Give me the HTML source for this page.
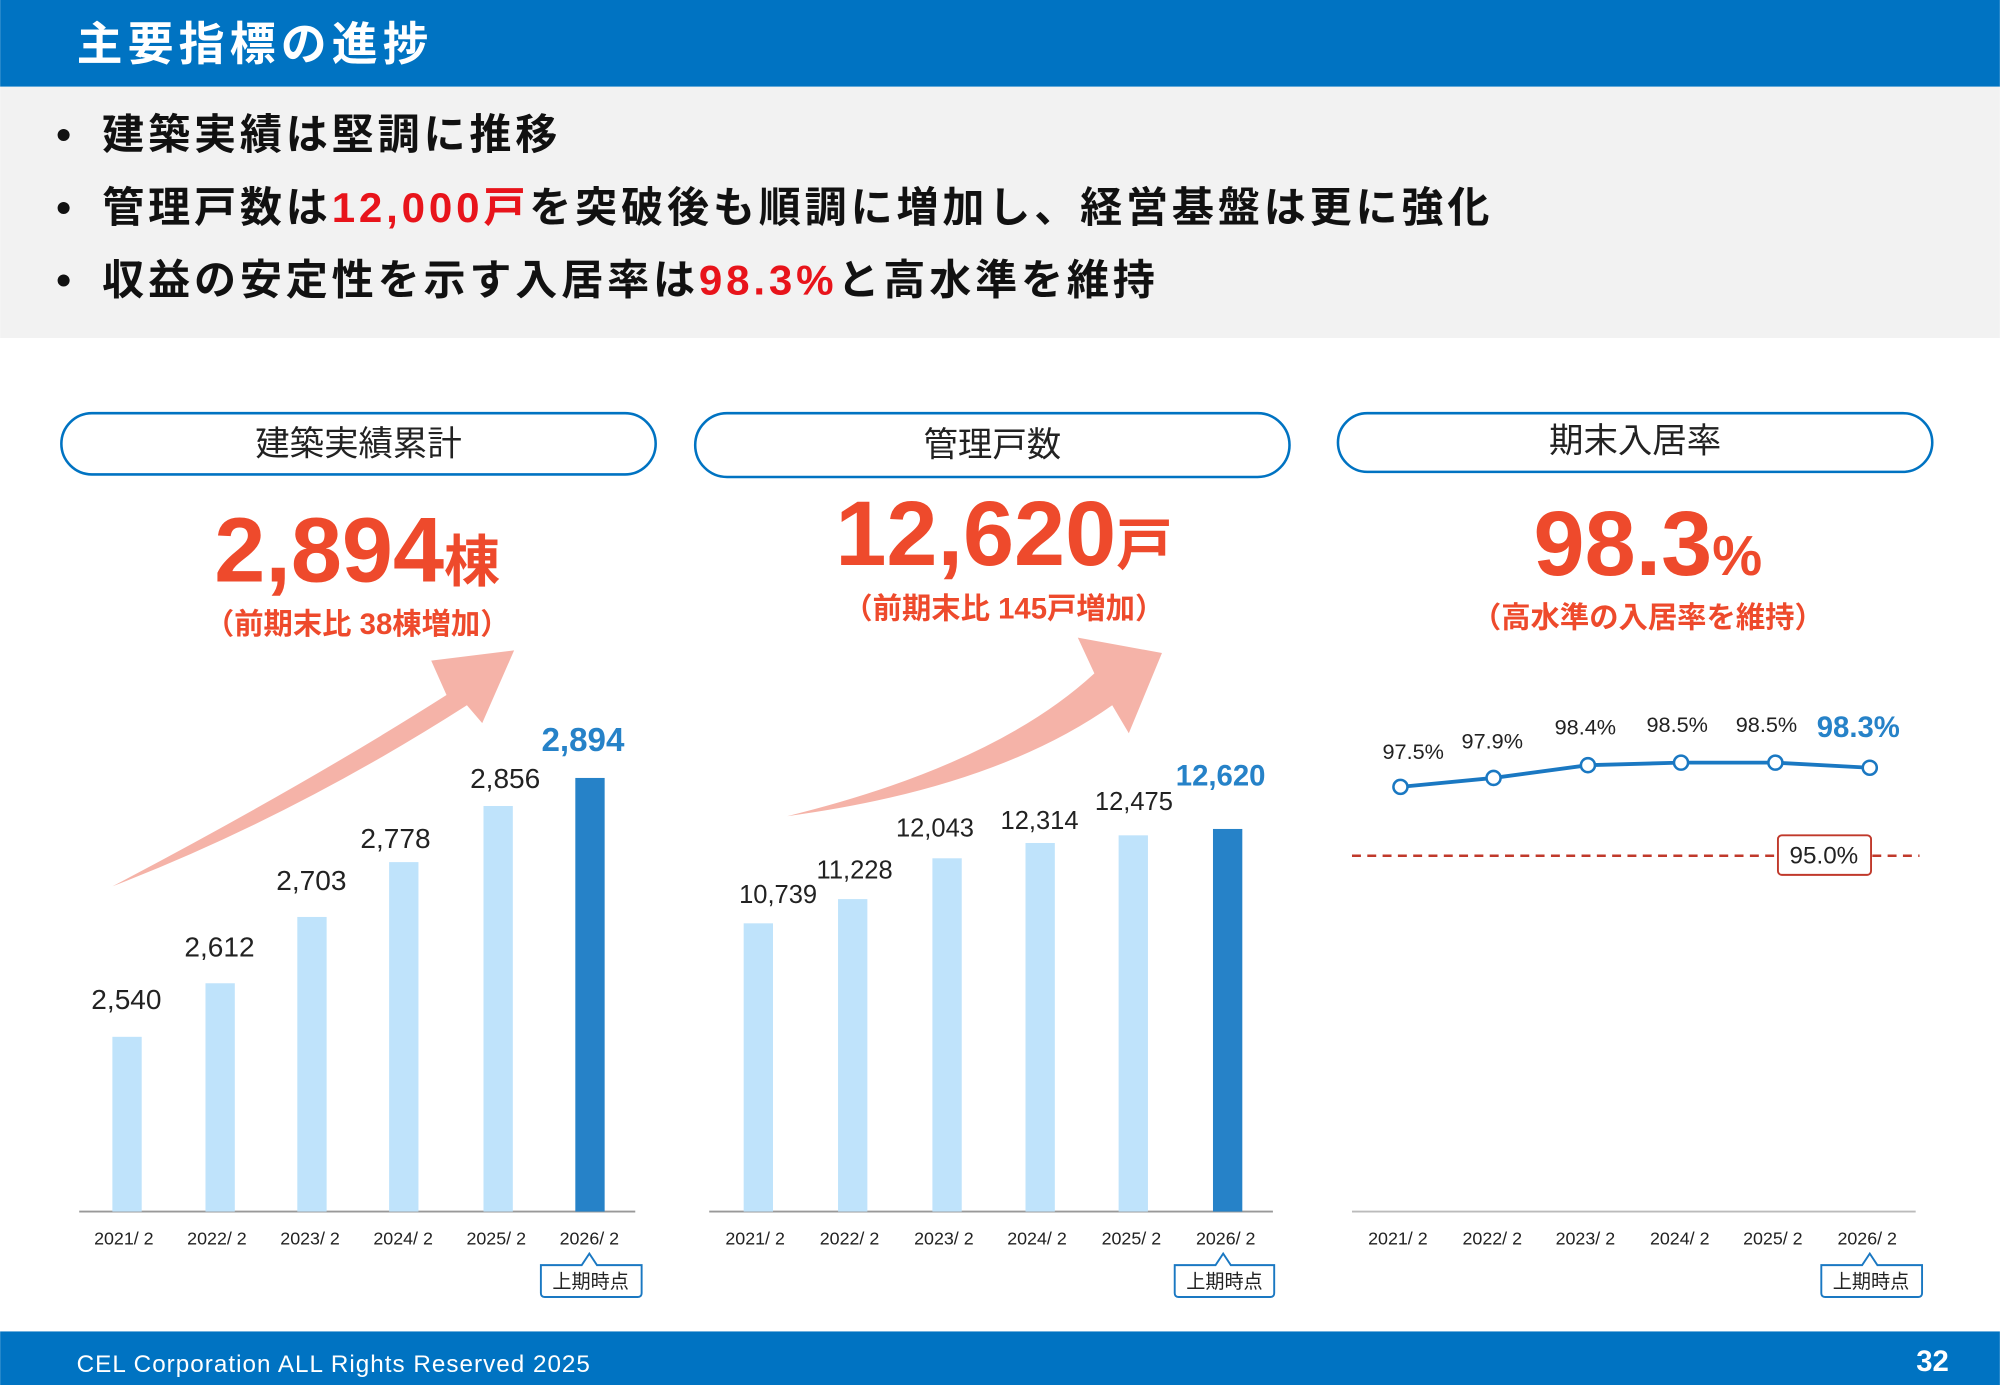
<!DOCTYPE html>
<html><head><meta charset="utf-8"><style>
html,body{margin:0;padding:0;background:#fff;}
svg{display:block;}
text{font-family:"Liberation Sans","Noto Sans CJK JP",sans-serif;}
</style></head><body>
<svg width="2000" height="1385" viewBox="0 0 1568 1086" xmlns="http://www.w3.org/2000/svg">
<rect x="0" y="0" width="1568" height="68" fill="#0073C2"/>
<text x="60" y="47" font-size="36" font-weight="bold" fill="#fff" letter-spacing="4">主要指標の進捗</text>
<rect x="0" y="68" width="1568" height="197" fill="#F2F2F2"/>
<g font-size="33" font-weight="bold" fill="#111" letter-spacing="3">
<text x="44" y="117">•</text><text x="80" y="117">建築実績は堅調に推移</text>
<text x="44" y="174">•</text><text x="80" y="174">管理戸数は<tspan fill="#E8141B">12,000戸</tspan>を突破後も順調に増加し、経営基盤は更に強化</text>
<text x="44" y="231">•</text><text x="80" y="231">収益の安定性を示す入居率は<tspan fill="#E8141B">98.3%</tspan>と高水準を維持</text>
</g>
<g fill="#fff" stroke="#0073C2" stroke-width="2">
<rect x="48" y="324" width="466" height="48" rx="24"/>
<rect x="545" y="324" width="466" height="50" rx="25"/>
<rect x="1049" y="324" width="466" height="46" rx="23"/>
</g>
<g font-size="27" fill="#222" text-anchor="middle">
<text x="281" y="357">建築実績累計</text>
<text x="778" y="358">管理戸数</text>
<text x="1282" y="355">期末入居率</text>
</g>
<g fill="#EE4A2C" font-weight="bold" text-anchor="middle">
<text x="280" y="456" font-size="72">2,894<tspan font-size="44">棟</tspan></text>
<text x="280" y="497" font-size="23">（前期末比 38棟増加）</text>
<text x="787" y="443" font-size="72">12,620<tspan font-size="44">戸</tspan></text>
<text x="787" y="485" font-size="23">（前期末比 145戸増加）</text>
<text x="1292" y="451" font-size="72">98.3<tspan font-size="44">%</tspan></text>
<text x="1292" y="492" font-size="23">（高水準の入居率を維持）</text>
</g>
<path d="M88,695 Q240,615 350,545 L338,518 L403,510 L378,567 L366,553 Q230,640 88,695 Z" fill="#F5B3A8"/>
<path d="M617,640 Q780,600 858,528 L845,500 L911,512 L885,575 L872,553 Q780,618 617,640 Z" fill="#F5B3A8"/>
<line x1="62" y1="950" x2="498" y2="950" stroke="#999" stroke-width="1.5"/>
<g fill="#BFE3FB">
<rect x="88" y="813" width="23" height="137"/>
<rect x="161" y="771" width="23" height="179"/>
<rect x="233" y="719" width="23" height="231"/>
<rect x="305" y="676" width="23" height="274"/>
<rect x="379" y="632" width="23" height="318"/>
</g>
<rect x="451" y="610" width="23" height="340" fill="#2682C8"/>
<g font-size="22" fill="#222" text-anchor="middle">
<text x="99" y="791">2,540</text><text x="172" y="750">2,612</text><text x="244" y="698">2,703</text>
<text x="310" y="665">2,778</text><text x="396" y="618">2,856</text>
</g>
<text x="457" y="589" font-size="26" font-weight="bold" fill="#2682C8" text-anchor="middle">2,894</text>
<line x1="556" y1="950" x2="998" y2="950" stroke="#999" stroke-width="1.5"/>
<g fill="#BFE3FB">
<rect x="583" y="724" width="23" height="226"/>
<rect x="657" y="705" width="23" height="245"/>
<rect x="731" y="673" width="23" height="277"/>
<rect x="804" y="661" width="23" height="289"/>
<rect x="877" y="655" width="23" height="295"/>
</g>
<rect x="951" y="650" width="23" height="300" fill="#2682C8"/>
<g font-size="20" fill="#222" text-anchor="middle">
<text x="610" y="708">10,739</text><text x="670" y="689">11,228</text><text x="733" y="656">12,043</text>
<text x="815" y="650">12,314</text><text x="889" y="635">12,475</text>
</g>
<text x="957" y="616" font-size="23" font-weight="bold" fill="#2682C8" text-anchor="middle">12,620</text>
<line x1="1060" y1="950" x2="1502" y2="950" stroke="#bbb" stroke-width="1.5"/>
<line x1="1060" y1="671" x2="1505" y2="671" stroke="#C0392B" stroke-width="2" stroke-dasharray="7,5"/>
<rect x="1394" y="655" width="73" height="31" rx="3" fill="#fff" stroke="#C0392B" stroke-width="1.5"/>
<text x="1430" y="677" font-size="19" fill="#222" text-anchor="middle">95.0%</text>
<polyline points="1098,617 1171,610 1245,600 1318,598 1392,598 1466,602" fill="none" stroke="#1A78C2" stroke-width="3"/>
<g fill="#fff" stroke="#1A78C2" stroke-width="2">
<circle cx="1098" cy="617" r="5.5"/><circle cx="1171" cy="610" r="5.5"/><circle cx="1245" cy="600" r="5.5"/>
<circle cx="1318" cy="598" r="5.5"/><circle cx="1392" cy="598" r="5.5"/><circle cx="1466" cy="602" r="5.5"/>
</g>
<g font-size="17" fill="#222" text-anchor="middle">
<text x="1108" y="595">97.5%</text><text x="1170" y="587">97.9%</text><text x="1243" y="576">98.4%</text>
<text x="1315" y="574">98.5%</text><text x="1385" y="574">98.5%</text>
</g>
<text x="1457" y="578" font-size="23" font-weight="bold" fill="#2682C8" text-anchor="middle">98.3%</text>
<g font-size="14" fill="#222" text-anchor="middle">
<text x="97" y="976">2021/ 2</text><text x="170" y="976">2022/ 2</text><text x="243" y="976">2023/ 2</text><text x="316" y="976">2024/ 2</text><text x="389" y="976">2025/ 2</text><text x="462" y="976">2026/ 2</text>
<text x="592" y="976">2021/ 2</text><text x="666" y="976">2022/ 2</text><text x="740" y="976">2023/ 2</text><text x="813" y="976">2024/ 2</text><text x="887" y="976">2025/ 2</text><text x="961" y="976">2026/ 2</text>
<text x="1096" y="976">2021/ 2</text><text x="1170" y="976">2022/ 2</text><text x="1243" y="976">2023/ 2</text><text x="1317" y="976">2024/ 2</text><text x="1390" y="976">2025/ 2</text><text x="1464" y="976">2026/ 2</text>
</g>
<g fill="#fff" stroke="#1A78C2" stroke-width="1.5">
<path d="M424,992 L456,992 L462,983 L468,992 L503,992 L503,1014 Q503,1017 500,1017 L427,1017 Q424,1017 424,1014 Z"/>
<path d="M921,992 L953,992 L959,983 L965,992 L999,992 L999,1014 Q999,1017 996,1017 L924,1017 Q921,1017 921,1014 Z"/>
<path d="M1428,992 L1460,992 L1466,983 L1472,992 L1507,992 L1507,1014 Q1507,1017 1504,1017 L1431,1017 Q1428,1017 1428,1014 Z"/>
</g>
<g font-size="15" fill="#222" text-anchor="middle">
<text x="463" y="1010">上期時点</text><text x="960" y="1010">上期時点</text><text x="1467" y="1010">上期時点</text>
</g>
<rect x="0" y="1044" width="1568" height="42" fill="#0073C2"/>
<text x="60" y="1076" font-size="19" fill="#fff" letter-spacing="0.8">CEL Corporation ALL Rights Reserved 2025</text>
<text x="1528" y="1075" font-size="23" font-weight="bold" fill="#fff" text-anchor="end">32</text>
</svg>
</body></html>
